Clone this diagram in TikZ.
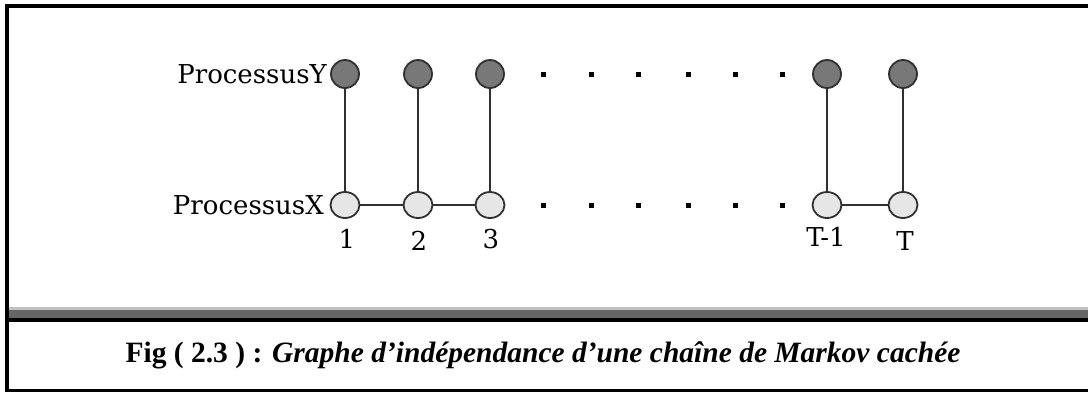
\documentclass[tikz,border=0pt]{standalone}
\usepackage{fontspec}
\setmainfont{Liberation Serif}
\newfontfamily\labelfont{DejaVu Serif}
\usetikzlibrary{shapes.geometric}
\definecolor{obsfill}{HTML}{787878}
\definecolor{hidfill}{HTML}{E6E6E6}
\definecolor{edgecol}{HTML}{303030}
\definecolor{barlight}{HTML}{C0C0C0}
\definecolor{bardark}{HTML}{666666}
\tikzset{
  obs/.style={circle, draw=edgecol, line width=1.8pt, fill=obsfill, minimum size=28pt, inner sep=0pt},
  hid/.style={ellipse, draw=edgecol, line width=1.8pt, fill=hidfill, minimum width=29pt, minimum height=26pt, inner sep=0pt},
  link/.style={line width=1.6pt, draw=edgecol},
  gap/.style={fill=black, minimum size=5pt, inner sep=0pt, draw=none},
  rowlabel/.style={font=\labelfont\fontsize{26}{29}\selectfont, anchor=east, inner sep=0pt},
  idx/.style={font=\labelfont\fontsize{26}{29}\selectfont, inner sep=0pt},
}
\begin{document}
\begin{tikzpicture}[x=1pt, y=-1pt]
\useasboundingbox (0,0) rectangle (1088,392);
% frame
\fill[black] (5,4) rectangle (9,392);
\fill[black] (5,4) rectangle (1088,8);
\fill[black] (5,389) rectangle (1088,392);
% separator bar
\fill[barlight] (9,307) rectangle (1088,310);
\fill[bardark] (9,310) rectangle (1088,318);
\fill[black] (9,318) rectangle (1088,322);

% observed process
\node[obs] (y1) at (345,74) {};
\node[obs] (y2) at (418,74) {};
\node[obs] (y3) at (490,74) {};
\node[obs] (y4) at (827,74) {};
\node[obs] (y5) at (903,74) {};
% hidden chain
\node[hid] (x1) at (345,205) {};
\node[hid] (x2) at (418,205) {};
\node[hid] (x3) at (490,205) {};
\node[hid] (x4) at (827,205) {};
\node[hid] (x5) at (903,205) {};

\foreach \i in {1,...,5} \draw[link] (y\i) -- (x\i);
\draw[link] (x1) -- (x2);
\draw[link] (x2) -- (x3);
\draw[link] (x4) -- (x5);

% ellipsis dots
\foreach \k/\xx in {1/543,2/591,3/638,4/688,5/735,6/782} {
  \node[gap] (dy\k) at (\xx,74) {};
  \node[gap] (dx\k) at (\xx,205) {};
}

% labels
\node[rowlabel] (ly) at (327,74) {ProcessusY};
\node[rowlabel] (lx) at (324,205) {ProcessusX};
\node[idx] (n1) at (347,239) {1};
\node[idx] (n2) at (419,241) {2};
\node[idx] (n3) at (491,239) {3};
\node[idx] (n4) at (826,237) {T-1};
\node[idx] (n5) at (905,241) {T};

% caption
\node[inner sep=0pt, font=\fontsize{29.5}{32}\selectfont] (cap) at (543,355)
  {\textbf{Fig ( 2.3 ) : \textit{Graphe d’indépendance d’une chaîne de Markov cachée}}};
\end{tikzpicture}
\end{document}
